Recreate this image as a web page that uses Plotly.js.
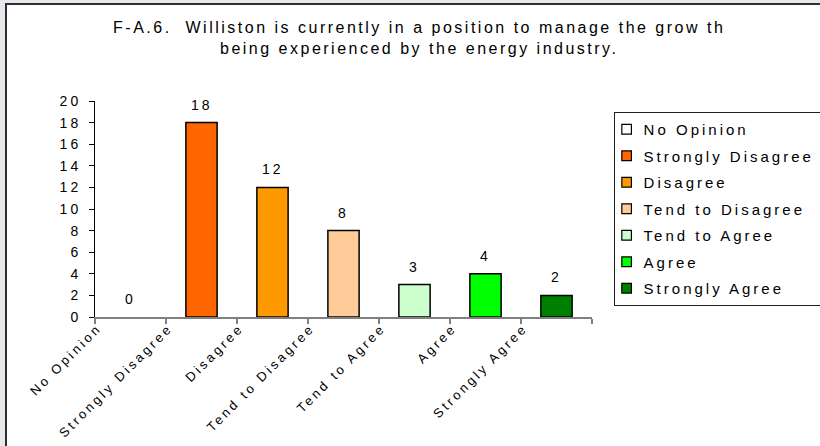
<!DOCTYPE html>
<html>
<head>
<meta charset="utf-8">
<script src="https://cdn.plot.ly/plotly-3.0.1.min.js"></script>
<style>
html,body{margin:0;padding:0;background:#e6e8eb;width:820px;height:446px;overflow:hidden}
#frame{position:absolute;left:5px;top:3px;width:813px;height:441px;border-left:2px solid #2e2e2e;border-top:2px solid #2e2e2e;background:#fff;overflow:hidden}
#chart{width:813px;height:441px}
.gtitle{letter-spacing:2.5px}
.legendtext{letter-spacing:3px;transform:translateX(-11px)}
.legendpoints{transform:translate(-4px,0px) scale(0.8)}
.x2tick text{letter-spacing:3px}
.ytick text{letter-spacing:3px}
.annotation-text{letter-spacing:3px}
</style>
</head>
<body>
<div id="frame"><div id="chart"></div></div>
<script>
const categories = ['No Opinion','Strongly Disagree','Disagree','Tend to Disagree','Tend to Agree','Agree','Strongly Agree'];
const counts = [0, 18, 12, 8, 3, 4, 2];
const colors = ['#FFFFFF','#FF6600','#FF9900','#FFCC99','#CCFFCC','#00FF00','#008000'];
const titleText = 'F-A.6.  Williston is currently in a position to manage the grow th<br>being experienced by the energy industry.';

const FONT = 'Liberation Sans, Arial, sans-serif';

// zero-height bars are left undrawn (no stray outline on the axis)
const traces = categories.map((c, i) => ({
  type: 'bar',
  x: [c],
  y: [counts[i] === 0 ? null : counts[i]],
  name: c,
  legendgroup: c,
  width: 0.44,
  marker: {color: colors[i], line: {color: '#000000', width: 1.5}},
  hoverinfo: 'skip'
}));

const annotations = categories.map((c, i) => ({
  x: c, y: counts[i], xref: 'x', yref: 'y',
  text: String(counts[i]), showarrow: false,
  yanchor: 'middle', yshift: 18,
  font: {family: FONT, size: 14, color: '#000'}
}));

const layout = {
  width: 813, height: 441,
  paper_bgcolor: '#ffffff', plot_bgcolor: '#ffffff',
  font: {family: FONT, color: '#000'},
  margin: {l: 88.3, r: 228.3, t: 96.3, b: 129.3, autoexpand: false},
  title: {
    text: titleText, x: 0.507, xanchor: 'center', xref: 'container',
    y: 0.937, yanchor: 'top', yref: 'container',
    font: {family: FONT, size: 16, color: '#000'}
  },
  barmode: 'overlay',
  showlegend: true,
  legend: {
    x: 1.0435, y: 0.949, xanchor: 'left', yanchor: 'top',
    bgcolor: '#ffffff', bordercolor: '#222222', borderwidth: 1,
    traceorder: 'grouped', tracegroupgap: 4.0,
    font: {family: FONT, size: 15, color: '#000'}
  },
  xaxis: {
    type: 'category', categoryorder: 'array', categoryarray: categories,
    range: [-0.5, categories.length - 0.5],
    showticklabels: false, ticks: 'outside', tickson: 'boundaries', ticklen: 5,
    tickcolor: '#808080', tickwidth: 1.5,
    showline: true, linecolor: '#808080', linewidth: 2,
    showgrid: false, zeroline: false, fixedrange: true
  },
  xaxis2: {
    overlaying: 'x', anchor: 'y', side: 'bottom', type: 'linear',
    range: [-0.5, categories.length - 0.5],
    tickmode: 'array',
    tickvals: categories.map((c, i) => i - 0.5),
    ticktext: categories,
    tickangle: -45, ticks: '', showline: false, showgrid: false, zeroline: false,
    ticklabelshift: 3, ticklabelstandoff: 0,
    tickfont: {family: FONT, size: 13, color: '#000'}
  },
  yaxis: {
    range: [0, 20], dtick: 2, tick0: 0,
    ticks: 'outside', ticklen: 5, tickcolor: '#000', tickwidth: 1,
    showline: true, linecolor: '#000', linewidth: 1,
    showgrid: false, zeroline: false, ticklabelstandoff: 5,
    tickfont: {family: FONT, size: 14, color: '#000'}
  },
  annotations: annotations
};

// empty trace that activates the label axis
traces.push({type: 'scatter', x: [], y: [], xaxis: 'x2', yaxis: 'y', showlegend: false, hoverinfo: 'skip'});

Plotly.newPlot('chart', traces, layout, {displayModeBar: false, staticPlot: true});
</script>
</body>
</html>
